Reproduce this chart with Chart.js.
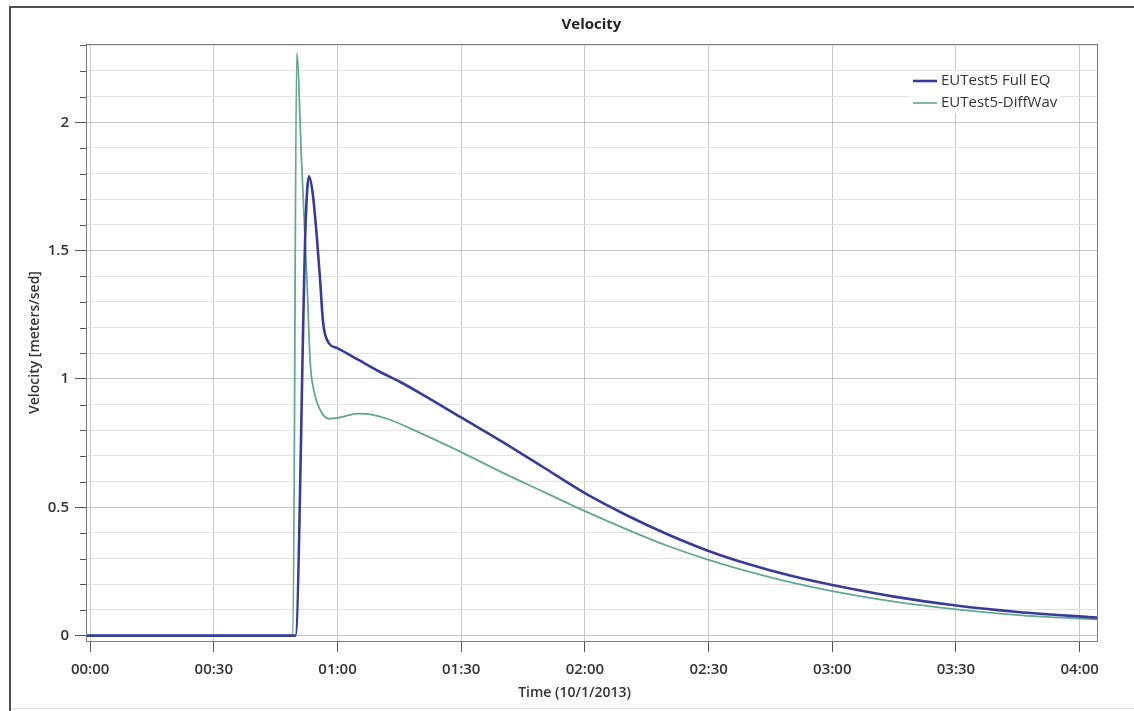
<!DOCTYPE html>
<html>
<head>
<meta charset="utf-8">
<script src="https://cdn.jsdelivr.net/npm/chart.js@4/dist/chart.umd.min.js"></script>
<style>
  html, body { margin: 0; padding: 0; background: #fff; }
  #c { display: block; }
</style>
</head>
<body>
<canvas id="c" width="1134" height="711"></canvas>
<script>
// Time in minutes after 00:00 on 10/1/2013, velocity in m/s
const fullEqMinutes  = [-1, 49.8, 52.3, 53.1, 54.0, 55.0, 55.8, 56.5, 57.7, 60, 65, 70, 75, 80, 90, 100, 110, 120, 130, 140, 150, 160, 170, 180, 195, 210, 225, 244.2];
const fullEqVelocity = [0, 0, 1.62, 1.79, 1.72, 1.55, 1.38, 1.22, 1.145, 1.12, 1.075, 1.03, 0.99, 0.945, 0.85, 0.755, 0.655, 0.555, 0.47, 0.395, 0.33, 0.277, 0.233, 0.197, 0.152, 0.117, 0.092, 0.07];

const diffWavMinutes  = [-1, 49.2, 50.1, 51.3, 52.6, 53.4, 54.2, 55.1, 56.5, 58, 60, 62.5, 65, 68, 72, 80, 90, 100, 110, 120, 130, 140, 150, 160, 170, 180, 195, 210, 225, 244.2];
const diffWavVelocity = [0, 0, 2.27, 1.84, 1.38, 1.06, 0.96, 0.905, 0.86, 0.845, 0.848, 0.858, 0.865, 0.862, 0.845, 0.79, 0.715, 0.635, 0.56, 0.485, 0.415, 0.35, 0.295, 0.248, 0.207, 0.173, 0.132, 0.102, 0.08, 0.063];

const seriesLabels = ['EUTest5 Full EQ', 'EUTest5-DiffWav'];
const seriesColors = ['#383c98', '#62a892'];

const timeTicks = [0, 30, 60, 90, 120, 150, 180, 210, 240];
const timeAxisTitle = 'Time (10/1/2013)';
const velocityTicks = [0, 0.1, 0.2, 0.3, 0.4, 0.5, 0.6, 0.7, 0.8, 0.9, 1, 1.1, 1.2, 1.3, 1.4, 1.5, 1.6, 1.7, 1.8, 1.9, 2, 2.1, 2.2, 2.3];
const velocityLabelled = [0, 0.5, 1, 1.5, 2];

const FONT = "'Open Sans', 'Noto Sans', sans-serif";
const isLabelled = v => velocityLabelled.some(m => Math.abs(m - v) < 1e-6);
const hhmm = m => {
  const h = Math.floor(m / 60), mm = Math.round(m % 60);
  return String(h).padStart(2, '0') + ':' + String(mm).padStart(2, '0');
};
const toPoints = (xs, ys) => xs.map((x, i) => ({ x: x, y: ys[i] }));

// Window frame, plot border, short minor ticks, time-axis caption and the inset legend
const decor = {
  id: 'decor',
  beforeDraw(chart) {
    const c = chart.ctx;
    c.save();
    c.fillStyle = '#fff';
    c.fillRect(0, 0, chart.width, chart.height);
    c.restore();
  },
  afterDraw(chart) {
    const c = chart.ctx, a = chart.chartArea;
    c.save();
    // outer frame
    c.strokeStyle = '#505050';
    c.lineWidth = 2;
    c.beginPath();
    c.moveTo(10, 711); c.lineTo(10, 7); c.lineTo(1134, 7);
    c.stroke();
    c.strokeStyle = '#e2e2e2';
    c.lineWidth = 1;
    c.beginPath();
    c.moveTo(11, 708.5); c.lineTo(1134, 708.5);
    c.stroke();
    // plot box
    c.strokeStyle = '#7c7c7c';
    c.lineWidth = 1;
    c.strokeRect(Math.round(a.left) + 0.5, Math.round(a.top) + 0.5, Math.round(a.right - a.left), Math.round(a.bottom - a.top));
    // minor ticks on the velocity axis
    const ys = chart.scales.y;
    c.strokeStyle = '#555';
    velocityTicks.forEach(v => {
      if (isLabelled(v)) return;
      const py = Math.round(ys.getPixelForValue(v)) + 0.5;
      c.beginPath();
      c.moveTo(a.left - 6, py); c.lineTo(a.left, py);
      c.stroke();
    });
    // time-axis caption, set a little left of the plot centre
    c.font = '600 14px ' + FONT;
    c.fillStyle = '#333';
    c.textAlign = 'center';
    c.textBaseline = 'middle';
    c.fillText(timeAxisTitle, (a.left + a.right) / 2 - 17, 693);
    // legend
    c.font = '15px ' + FONT;
    c.textAlign = 'left';
    const rows = [81, 103];
    const widths = chart.data.datasets.map(d => c.measureText(d.label).width);
    const textX = 941;
    c.fillStyle = '#fff';
    c.fillRect(textX - 32, rows[0] - 10, Math.max(...widths) + 36, rows[1] - rows[0] + 20);
    chart.data.datasets.forEach((d, i) => {
      c.strokeStyle = d.borderColor;
      c.lineWidth = i === 0 ? 2.6 : 1.6;
      c.beginPath();
      c.moveTo(textX - 28, rows[i]); c.lineTo(textX - 4, rows[i]);
      c.stroke();
      c.fillStyle = '#333';
      c.fillText(d.label, textX, rows[i]);
    });
    c.restore();
  }
};

new Chart(document.getElementById('c'), {
  type: 'line',
  data: {
    datasets: [
      {
        label: seriesLabels[0],
        data: toPoints(fullEqMinutes, fullEqVelocity),
        borderColor: seriesColors[0],
        borderWidth: 2.6,
        pointRadius: 0,
        cubicInterpolationMode: 'monotone',
        fill: false
      },
      {
        label: seriesLabels[1],
        data: toPoints(diffWavMinutes, diffWavVelocity),
        borderColor: seriesColors[1],
        borderWidth: 1.8,
        pointRadius: 0,
        cubicInterpolationMode: 'monotone',
        fill: false
      }
    ]
  },
  options: {
    responsive: false,
    animation: false,
    devicePixelRatio: 1,
    layout: { padding: { left: 0, right: 37, top: 0, bottom: 0 } },
    plugins: {
      legend: { display: false },
      tooltip: { enabled: false },
      title: {
        display: true,
        text: 'Velocity',
        fullSize: false,
        color: '#222',
        font: { family: FONT, size: 15, weight: 'bold' },
        padding: { top: 16, bottom: 10 }
      }
    },
    scales: {
      x: {
        type: 'linear',
        min: -1,
        max: 244.2,
        afterFit(s) { s.height = 70; },
        afterBuildTicks(s) { s.ticks = timeTicks.map(v => ({ value: v })); },
        border: { color: '#7c7c7c' },
        grid: { color: '#c9c9c9', tickColor: '#555', tickLength: 11, lineWidth: 1 },
        ticks: {
          padding: 9,
          maxRotation: 0,
          autoSkip: false,
          color: '#333',
          font: { family: FONT, size: 15, weight: '600' },
          callback: v => hhmm(v)
        },
        title: { display: false }
      },
      y: {
        type: 'linear',
        min: -0.021,
        max: 2.305,
        afterFit(s) { s.width = 86; },
        afterBuildTicks(s) { s.ticks = velocityTicks.map(v => ({ value: v })); },
        border: { color: '#7c7c7c' },
        grid: {
          color: ctx => isLabelled(ctx.tick.value) ? '#c4c4c4' : '#e1e1e1',
          tickColor: ctx => isLabelled(ctx.tick.value) ? '#555' : 'rgba(0,0,0,0)',
          tickLength: 11,
          lineWidth: 1
        },
        ticks: {
          padding: 6,
          autoSkip: false,
          color: '#333',
          font: { family: FONT, size: 15, weight: '600' },
          callback: v => isLabelled(v) ? String(Math.round(v * 10) / 10) : ''
        },
        title: {
          display: true,
          text: 'Velocity [meters/sed]',
          color: '#333',
          font: { family: FONT, size: 14, weight: '600' },
          padding: { top: 27, bottom: 0 }
        }
      }
    }
  },
  plugins: [decor]
});
</script>
</body>
</html>
